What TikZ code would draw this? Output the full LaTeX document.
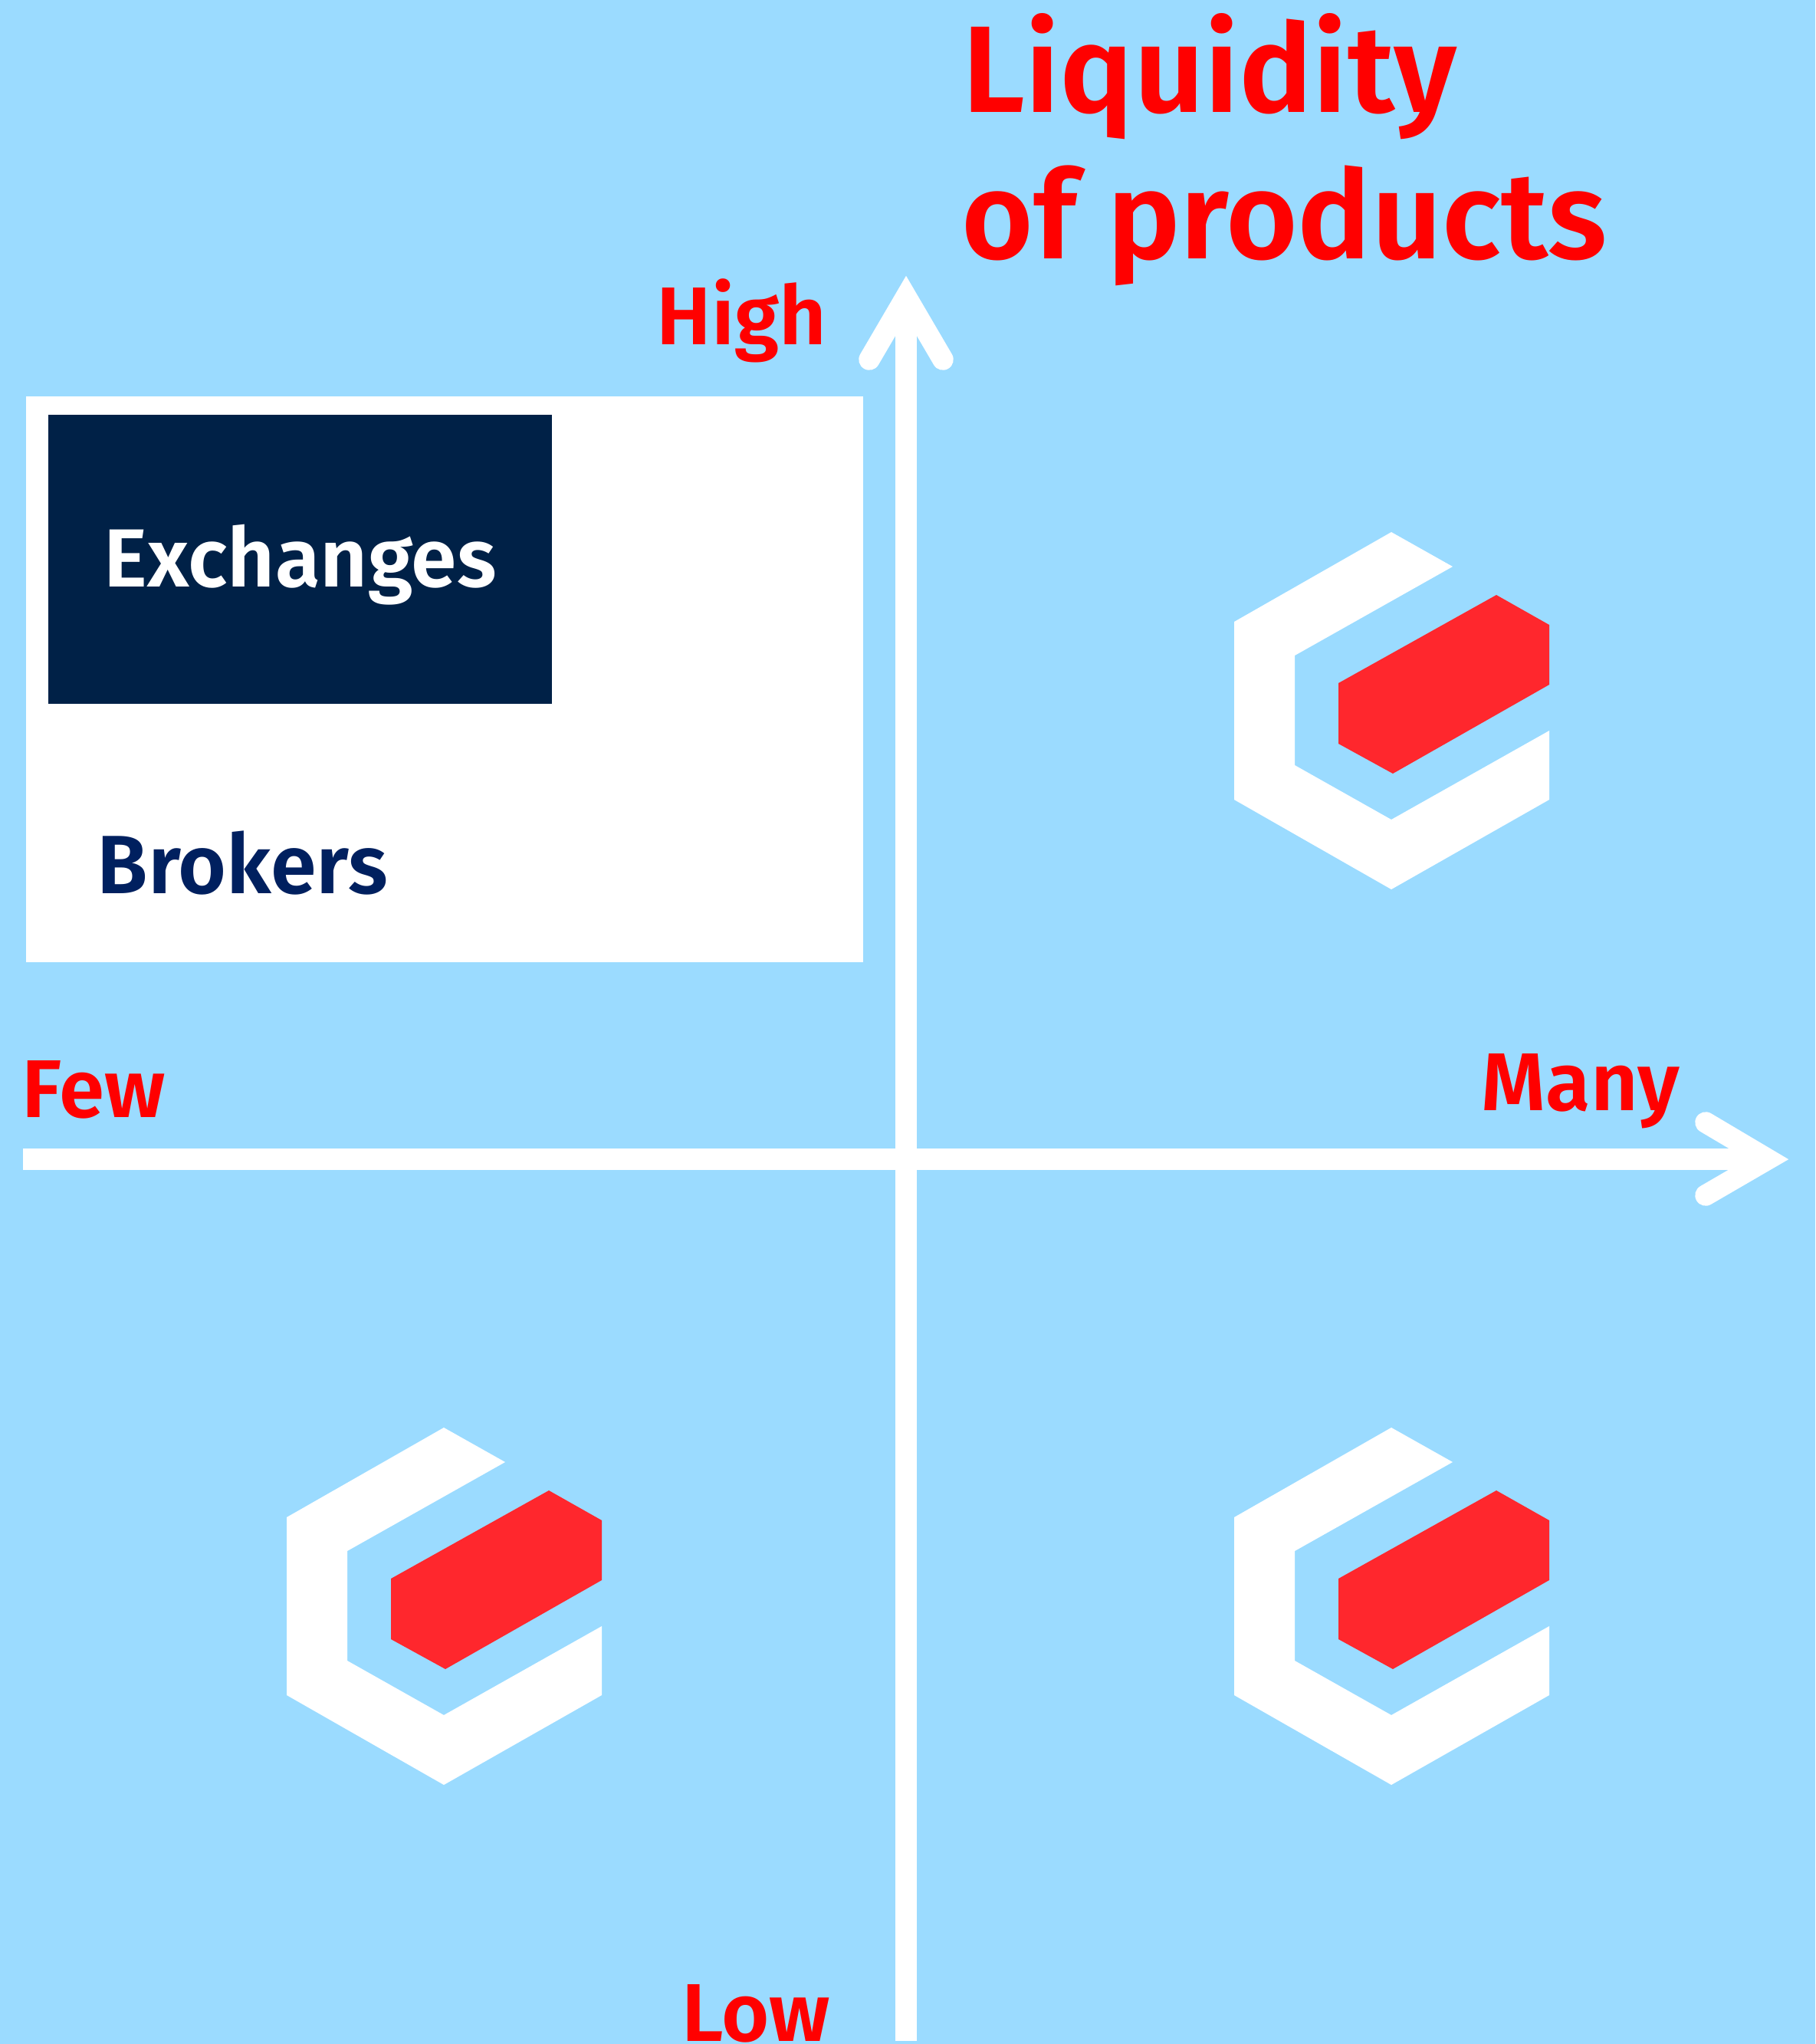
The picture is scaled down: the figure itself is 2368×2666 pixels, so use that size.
\documentclass[tikz,border=0pt]{standalone}
\usepackage{fontspec}
\setmainfont{Fira Sans}[BoldFont={Fira Sans SemiBold}]
\definecolor{skyback}{HTML}{9BDBFF}
\definecolor{navybox}{HTML}{002147}
\definecolor{navytext}{HTML}{00205F}
\definecolor{logored}{HTML}{FF272D}
\tikzset{
	axisline/.style={white,line width=0.275cm,line cap=butt},
	axishead/.style={white,line width=0.275cm,line cap=round,miter limit=10},
	redlabel/.style={text=red,font=\fontsize{30.4}{31}\selectfont\bfseries,anchor=base west,inner sep=0pt},
	titlelabel/.style={text=red,font=\fontsize{45.7}{47}\selectfont\bfseries,anchor=base west,inner sep=0pt},
	logo/.pic={
		\fill[white] (0,0) -- (205,-117) -- (285,-72) -- (79,44) -- (79,187) -- (205,258) -- (411,142) -- (411,232) -- (205,349) -- (0,232) -- cycle;
		\fill[logored] (136,80) -- (342,-35) -- (411,4) -- (411,82) -- (207,198) -- (136,159) -- cycle;
	}
}
\begin{document}
\begin{tikzpicture}[x=0.01cm,y=-0.01cm]
		\fill[skyback] (0,0) rectangle (2368,2666);
		\useasboundingbox (0,0) rectangle (2368,2666);
		% brokers panel
		\fill[white] (34,517) rectangle (1126,1255);
		\node[fill=navybox,text=white,minimum width=6.57cm,minimum height=3.77cm,inner sep=0pt,text height=1.01cm,text depth=0.3cm,font=\fontsize{30.6}{31}\selectfont\bfseries] (exchanges) at (391.5,729.5) {Exchanges};
		\node[text=navytext,font=\fontsize{30.7}{31}\selectfont\bfseries,anchor=base west,inner sep=0pt] (brokers) at (126,1165) {Brokers};
		% axes
		\coordinate (axisleft) at (30,1512);
		\coordinate (axisright) at (2306,1512);
		\coordinate (axisbottom) at (1182,2662);
		\coordinate (axistop) at (1182,387);
		\draw[axisline] (axisleft) -- (axisright);
		\draw[axisline] (axisbottom) -- (axistop);
		\coordinate (barbA) at (1134,469);
		\coordinate (barbB) at (1230,469);
		\coordinate (barbC) at (2225,1464);
		\coordinate (barbD) at (2225,1559);
		\draw[axishead] (barbA) -- (axistop) -- (barbB);
		\draw[axishead] (barbC) -- (axisright) -- (barbD);
		% labels
		\node[titlelabel] (liquidity) at (1255,146) {Liquidity};
		\node[titlelabel] (products) at (1254,337) {of products};
		\node[redlabel] (high) at (856,449) {High};
		\node[redlabel] (low) at (889,2662) {Low};
		\node[redlabel] (few) at (28,1457) {Few};
		\node[redlabel] (many) at (1932,1448) {Many};
		% logos
		\pic at (1610,811) {logo};
		\pic at (374,1979) {logo};
		\pic at (1610,1979) {logo};
	\end{tikzpicture}
\end{document}
